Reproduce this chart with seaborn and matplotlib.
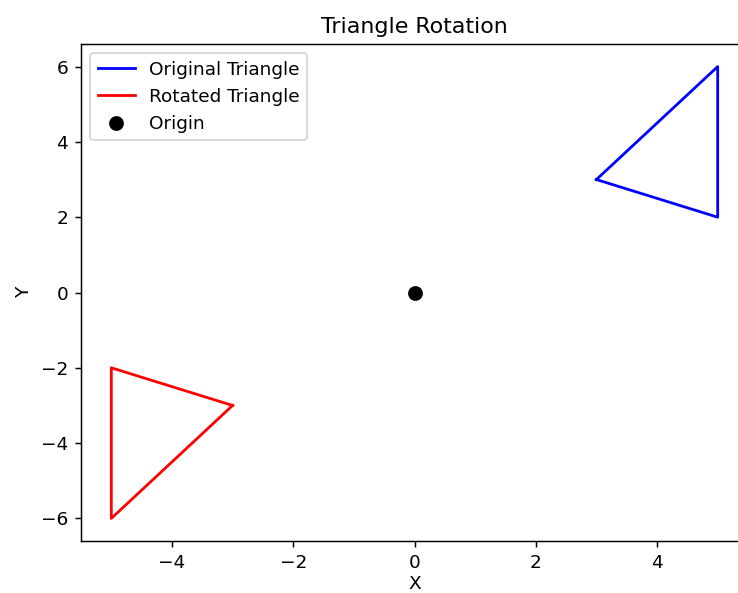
import matplotlib
matplotlib.use('Agg')
import numpy as np
import pandas as pd
import matplotlib.pyplot as plt
import seaborn as sns

# triangle vertices (closed)
orig_x = [3, 5, 5, 3]
orig_y = [3, 6, 2, 3]
rot_x = [-3, -5, -5, -3]
rot_y = [-3, -6, -2, -3]
origin_x = [0]
origin_y = [0]

dpi = 133
W, H = 738, 593
fig = plt.figure(figsize=(W / dpi, H / dpi), dpi=dpi)
# axes runs past the right edge, as in the cropped reference
ax = fig.add_axes([81 / W, (H - 541) / H, (748 - 81) / W, (541 - 44) / H])

orig = pd.DataFrame({'x': orig_x, 'y': orig_y})
rot = pd.DataFrame({'x': rot_x, 'y': rot_y})

sns.lineplot(data=orig, x='x', y='y', sort=False, estimator=None, color='blue',
             linewidth=1.5, label='Original Triangle', ax=ax)
sns.lineplot(data=rot, x='x', y='y', sort=False, estimator=None, color='red',
             linewidth=1.5, label='Rotated Triangle', ax=ax)
ax.plot(origin_x, origin_y, 'o', color='black', markersize=7, label='Origin')

ax.set_xlim(-5.5, 5.5)
ax.set_ylim(-6.6, 6.6)
ax.spines['right'].set_visible(False)
ax.set_title('Triangle Rotation')
ax.set_xlabel('X', labelpad=1.5)
ax.set_ylabel('Y')
ax.legend(loc='upper left')

fig.savefig('out.png', dpi=dpi)
